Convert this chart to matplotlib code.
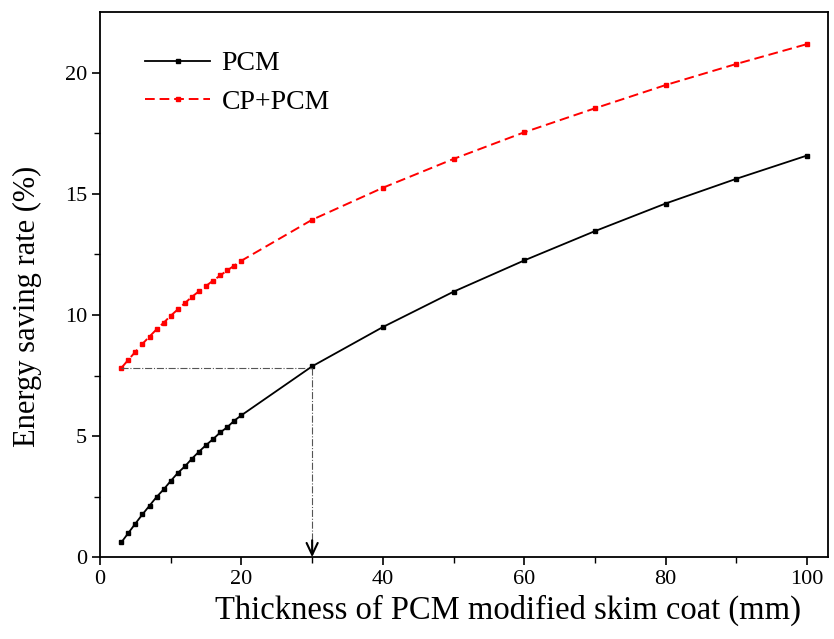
import numpy as np
import matplotlib.pyplot as plt

# thickness of the skim coat (mm)
x = [3, 4, 5, 6, 7, 8, 9, 10, 11, 12, 13, 14, 15, 16, 17, 18, 19, 20,
     30, 40, 50, 60, 70, 80, 90, 100]
# energy saving rate (%)
pcm = [0.61, 1.00, 1.39, 1.77, 2.13, 2.49, 2.80, 3.15, 3.48, 3.75, 4.07, 4.36,
       4.63, 4.88, 5.15, 5.37, 5.64, 5.86,
       7.88, 9.50, 10.96, 12.25, 13.46, 14.60, 15.62, 16.58]
cp_pcm = [7.81, 8.15, 8.48, 8.81, 9.11, 9.41, 9.68, 9.97, 10.23, 10.49, 10.75,
          10.98, 11.20, 11.42, 11.63, 11.84, 12.04, 12.24,
          13.93, 15.25, 16.44, 17.54, 18.53, 19.49, 20.36, 21.18]

plt.rcParams['font.family'] = 'Liberation Serif'

fig = plt.figure(figsize=(8.34, 6.39), dpi=100)
ax = fig.add_axes([0.12, 0.128, 0.873, 0.853])

ax.plot(x, pcm, '-', color='black', lw=1.3, marker='s', ms=2.2, label='PCM')
ax.plot(x, cp_pcm, color='red', lw=1.4, ls=(0, (5, 2.5)), marker='s', ms=2.2,
        label='CP+PCM')

# guide lines: same saving rate reached at 30 mm
ax.plot([x[0], 30], [cp_pcm[0], cp_pcm[0]], '-.', color='#555555', lw=0.8)
ax.plot([30, 30], [cp_pcm[0], 0.3], '-.', color='#555555', lw=0.8)
ax.annotate('', xy=(30, 0), xytext=(30, 0.7),
            arrowprops=dict(arrowstyle='->,head_length=0.85,head_width=0.4',
                            color='black', lw=1.5, shrinkA=0, shrinkB=0))

ax.set_xlim(0, 103)
ax.set_ylim(0, 22.5)
ax.set_xticks(np.arange(0, 101, 20))
ax.set_xticks(np.arange(0, 101, 10), minor=True)
ax.set_yticks(np.arange(0, 21, 5))
ax.set_yticks(np.arange(0, 22.5, 2.5), minor=True)
ax.tick_params(which='major', direction='out', length=6, width=1.2, labelsize=16)
ax.tick_params(which='minor', direction='out', length=4, width=1.0)
for spine in ax.spines.values():
    spine.set_linewidth(1.3)

ax.set_xlabel('Thickness of PCM modified skim coat (mm)', fontsize=23.5, va='center')
ax.set_ylabel('Energy saving rate (%)', fontsize=22, va='center')
ax.xaxis.set_label_coords(0.56, -0.097)
ax.yaxis.set_label_coords(-0.1, 0.46)

ax.legend(loc='upper left', frameon=False, fontsize=20, handlelength=2.35,
          handletextpad=0.4, borderpad=0, borderaxespad=0,
          bbox_to_anchor=(0.062, 0.929), labelspacing=0.46)

fig.savefig('out.png', dpi=100)
